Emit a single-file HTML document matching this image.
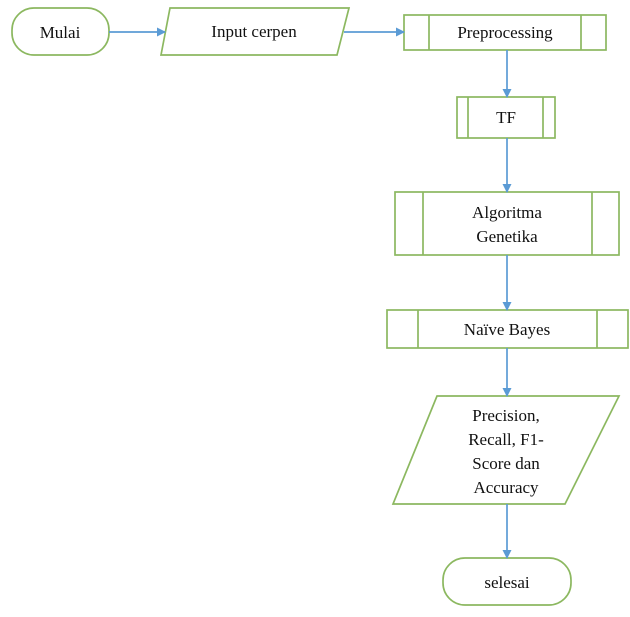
<!DOCTYPE html>
<html><head><style>
html,body{margin:0;padding:0;background:#fff;}
svg{display:block;}
text{font-family:"Liberation Serif",serif;font-size:17px;fill:#111;text-anchor:middle;}
</style></head><body>
<svg width="630" height="617" viewBox="0 0 630 617">
<defs><marker id="a" markerWidth="9" markerHeight="9" refX="8" refY="4.5" orient="auto" markerUnits="userSpaceOnUse"><path d="M0,0 L9,4.5 L0,9 z" fill="#5b9bd5"/></marker></defs>
<g fill="#fff" stroke="#8cb860" stroke-width="1.7">
<rect x="12" y="8" width="97" height="47" rx="22"/>
<polygon points="170,8 349,8 337,55 161,55"/>
<rect x="404" y="15" width="202" height="35"/><line x1="429" y1="15" x2="429" y2="50"/><line x1="581" y1="15" x2="581" y2="50"/>
<rect x="457" y="97" width="98" height="41"/><line x1="468" y1="97" x2="468" y2="138"/><line x1="543" y1="97" x2="543" y2="138"/>
<rect x="395" y="192" width="224" height="63"/><line x1="423" y1="192" x2="423" y2="255"/><line x1="592" y1="192" x2="592" y2="255"/>
<rect x="387" y="310" width="241" height="38"/><line x1="418" y1="310" x2="418" y2="348"/><line x1="597" y1="310" x2="597" y2="348"/>
<polygon points="437,396 619,396 565,504 393,504"/>
<rect x="443" y="558" width="128" height="47" rx="22"/>
</g>
<g stroke="#5b9bd5" stroke-width="1.7" marker-end="url(#a)">
<line x1="109" y1="32" x2="165" y2="32"/>
<line x1="344" y1="32" x2="404" y2="32"/>
<line x1="507" y1="50" x2="507" y2="97"/>
<line x1="507" y1="138" x2="507" y2="192"/>
<line x1="507" y1="255" x2="507" y2="310"/>
<line x1="507" y1="348" x2="507" y2="396"/>
<line x1="507" y1="504" x2="507" y2="558"/>
</g>
<text x="60" y="38">Mulai</text>
<text x="254" y="37">Input cerpen</text>
<text x="505" y="38">Preprocessing</text>
<text x="506" y="123">TF</text>
<text x="507" y="218">Algoritma</text>
<text x="507" y="242">Genetika</text>
<text x="507" y="335">Naïve Bayes</text>
<text x="506" y="421">Precision,</text>
<text x="506" y="445">Recall, F1-</text>
<text x="506" y="469">Score dan</text>
<text x="506" y="493">Accuracy</text>
<text x="507" y="588">selesai</text>
</svg>
</body></html>
